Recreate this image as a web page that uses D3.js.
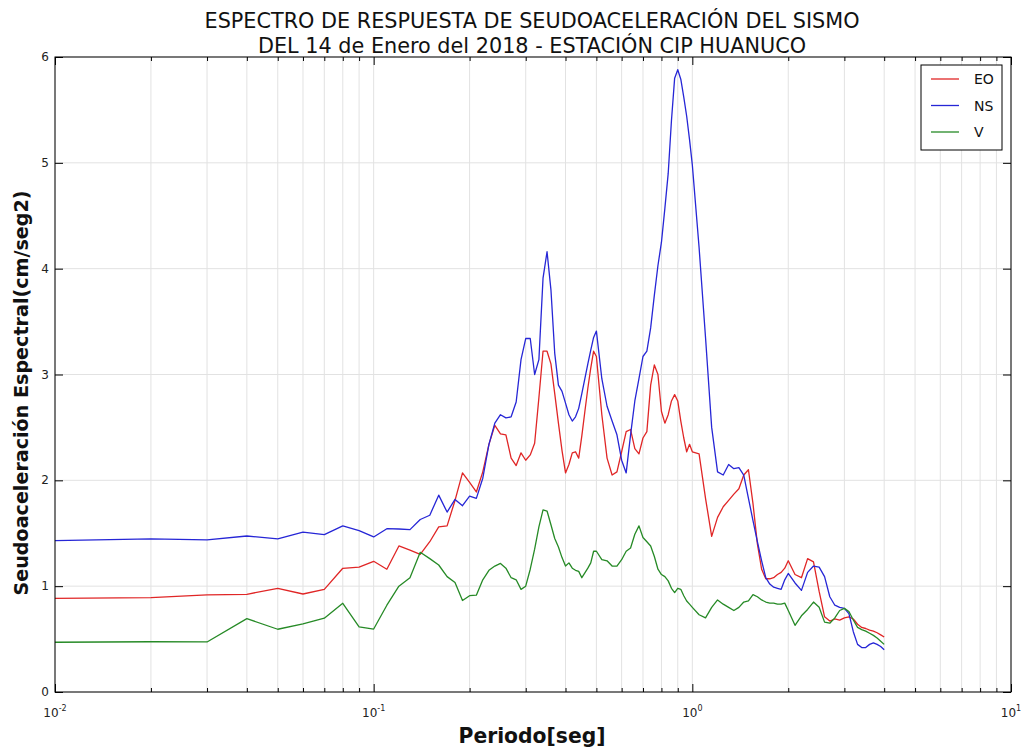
<!DOCTYPE html>
<html><head><meta charset="utf-8">
<script src="https://cdn.jsdelivr.net/npm/d3@7"></script>
<style>body{margin:0;background:#fff;} svg{display:block;font-family:"DejaVu Sans",sans-serif;}</style>
</head><body><svg id="c" width="1028" height="753"></svg>
<script>
// ---- data ----
const periods = [
  0.01,0.02,0.03,0.04,0.05,0.06,0.07,0.08,0.09,0.10,
  0.11,0.12,0.13,0.14,0.15,0.16,0.17,0.18,0.19,0.20,
  0.21,0.22,0.23,0.24,0.25,0.26,0.27,0.28,0.29,0.30,
  0.31,0.32,0.33,0.34,0.35,0.36,0.37,0.38,0.39,0.40,
  0.41,0.42,0.43,0.44,0.45,0.46,0.47,0.48,0.49,0.50,
  0.52,0.54,0.56,0.58,0.60,0.62,0.64,0.66,0.68,0.70,0.72,0.74,0.76,0.78,0.80,0.82,0.84,0.86,0.88,0.90,0.92,0.94,0.96,0.98,1.00,
  1.05,1.10,1.15,1.20,1.25,1.30,1.35,1.40,1.45,1.50,1.55,1.60,1.65,1.70,1.75,1.80,1.85,1.90,1.95,2.00,
  2.1,2.2,2.3,2.4,2.5,2.6,2.7,2.8,2.9,3.0,3.1,3.2,3.3,3.4,3.5,3.6,3.7,3.8,3.9,4.0
];
const eo = [
  0.885,0.891,0.917,0.923,0.98,0.926,0.97,1.169,1.18,1.235,
  1.16,1.38,1.34,1.30,1.42,1.56,1.57,1.81,2.07,1.98,
  1.89,2.08,2.34,2.52,2.44,2.43,2.21,2.14,2.26,2.19,
  2.24,2.35,2.78,3.22,3.22,3.10,2.82,2.54,2.28,2.07,
  2.15,2.26,2.27,2.21,2.42,2.65,2.87,3.06,3.22,3.17,
  2.62,2.21,2.05,2.08,2.27,2.46,2.48,2.30,2.25,2.40,2.46,2.90,3.09,3.0,2.65,2.54,2.62,2.75,2.81,2.75,2.56,2.40,2.27,2.34,2.27,
  2.25,1.83,1.47,1.65,1.75,1.81,1.87,1.92,2.05,2.10,1.78,1.40,1.16,1.07,1.07,1.08,1.11,1.13,1.17,1.24,
  1.11,1.08,1.26,1.23,0.95,0.71,0.67,0.69,0.68,0.70,0.71,0.69,0.64,0.61,0.60,0.585,0.575,0.56,0.54,0.52
];
const ns = [
  1.43,1.446,1.437,1.474,1.446,1.51,1.487,1.569,1.525,1.465,
  1.543,1.54,1.534,1.63,1.67,1.86,1.70,1.82,1.76,1.85,
  1.83,2.02,2.34,2.54,2.62,2.59,2.60,2.74,3.14,3.34,
  3.34,3.0,3.14,3.91,4.16,3.8,3.2,2.90,2.84,2.73,
  2.62,2.56,2.60,2.68,2.82,2.96,3.10,3.23,3.35,3.41,
  2.96,2.70,2.56,2.43,2.19,2.07,2.43,2.75,2.96,3.17,3.22,3.44,3.75,4.03,4.25,4.57,4.9,5.4,5.8,5.88,5.79,5.62,5.44,5.22,4.98,
  4.2,3.35,2.5,2.08,2.05,2.15,2.11,2.12,2.05,1.83,1.62,1.42,1.24,1.08,1.02,0.99,0.98,0.97,1.06,1.12,
  1.03,0.96,1.13,1.19,1.18,1.09,0.90,0.82,0.80,0.79,0.74,0.57,0.45,0.42,0.42,0.45,0.465,0.45,0.43,0.40
];
const vert = [
  0.47,0.475,0.473,0.693,0.593,0.643,0.697,0.838,0.615,0.595,
  0.82,1.0,1.08,1.32,1.26,1.20,1.09,1.035,0.865,0.91,
  0.915,1.06,1.15,1.19,1.215,1.17,1.08,1.06,0.97,1.0,
  1.16,1.35,1.56,1.72,1.71,1.58,1.45,1.37,1.27,1.19,
  1.22,1.17,1.15,1.14,1.08,1.125,1.17,1.22,1.33,1.33,
  1.25,1.24,1.19,1.19,1.25,1.33,1.36,1.49,1.57,1.46,1.42,1.38,1.28,1.16,1.11,1.09,1.05,0.98,0.94,0.98,0.97,0.91,0.86,0.83,0.80,
  0.73,0.70,0.80,0.87,0.83,0.80,0.77,0.80,0.85,0.86,0.92,0.90,0.87,0.85,0.84,0.84,0.83,0.83,0.84,0.77,
  0.63,0.72,0.78,0.85,0.80,0.66,0.65,0.70,0.77,0.79,0.76,0.68,0.61,0.59,0.575,0.555,0.535,0.51,0.48,0.45
];
const seriesNames = ["EO","NS","V"];
const seriesColors = ["#e02626","#2626d6","#268a26"];
const yTicks = [0,1,2,3,4,5,6];
const xTickExps = [-2,-1,0,1];
const titleLines = ["ESPECTRO DE RESPUESTA DE SEUDOACELERACIÓN DEL SISMO","DEL 14 de Enero del 2018 - ESTACIÓN CIP HUANUCO"];
const xLabel = "Periodo[seg]";
const yLabel = "Seudoaceleración Espectral(cm/seg2)";

// ---- layout ----
const svg = d3.select("#c");
const L = 55, R = 1011, T = 57, B = 692;
const x = d3.scaleLog().domain([0.01,10]).range([L,R]);
const y = d3.scaleLinear().domain([0,6]).range([B,T]);

svg.append("rect").attr("width",1028).attr("height",753).attr("fill","#fff");

// grid
const minorVals = [];
[0.01,0.1,1].forEach(d => { for (let k=1;k<=9;k++) minorVals.push(d*k); });
minorVals.push(10);
const grid = svg.append("g");
grid.selectAll("line.v").data(minorVals).join("line")
  .attr("x1",d=>x(d)).attr("x2",d=>x(d)).attr("y1",T).attr("y2",B)
  .attr("stroke","#e2e2e2").attr("stroke-width",1);
grid.selectAll("line.h").data(yTicks).join("line")
  .attr("x1",L).attr("x2",R).attr("y1",d=>y(d)).attr("y2",d=>y(d))
  .attr("stroke","#e2e2e2").attr("stroke-width",1);

// lines
const seriesData = [eo, ns, vert];
const line = d3.line().x((d,i)=>x(periods[i])).y(d=>y(d));
seriesData.forEach((s,k) => {
  svg.append("path").datum(s).attr("d",line).attr("fill","none")
    .attr("stroke",seriesColors[k]).attr("stroke-width",1.3).attr("stroke-linejoin","round");
});

// axes with inward ticks
const majorX = xTickExps.map(e=>Math.pow(10,e));
const minorX = minorVals.filter(v => !majorX.some(m => Math.abs(m-v)<1e-9));
function xAxis(gen, ty){
  const g = svg.append("g").attr("transform",`translate(0,${ty})`);
  g.call(gen(x).tickValues(majorX).tickSizeInner(-8).tickSizeOuter(0).tickFormat(""));
  const g2 = svg.append("g").attr("transform",`translate(0,${ty})`);
  g2.call(gen(x).tickValues(minorX).tickSizeInner(-4).tickSizeOuter(0).tickFormat(""));
  [g,g2].forEach(gg=>{gg.select(".domain").remove(); gg.selectAll("line").attr("stroke","#000");});
}
xAxis(d3.axisBottom, B);
xAxis(d3.axisTop, T);
function yAxis(gen, tx){
  const g = svg.append("g").attr("transform",`translate(${tx},0)`);
  g.call(gen(y).tickValues(yTicks).tickSizeInner(-8).tickSizeOuter(0).tickFormat(""));
  g.select(".domain").remove(); g.selectAll("line").attr("stroke","#000");
}
yAxis(d3.axisLeft, L);
yAxis(d3.axisRight, R);

// frame
svg.append("rect").attr("x",L).attr("y",T).attr("width",R-L).attr("height",B-T)
  .attr("fill","none").attr("stroke","#000").attr("stroke-width",1);

// tick labels
svg.append("g").selectAll("text").data(yTicks).join("text")
  .attr("x",L-6).attr("y",d=>y(d)+4).attr("text-anchor","end")
  .attr("font-size",12).attr("fill","#222").text(d=>d);
const xl = svg.append("g").selectAll("text").data(xTickExps).join("text")
  .attr("x",d=>x(Math.pow(10,d))).attr("y",717).attr("text-anchor","middle")
  .attr("font-size",12).attr("fill","#222");
xl.append("tspan").text("10");
xl.append("tspan").attr("dy",-6).attr("font-size",8).text(d=>d<0?"-"+Math.abs(d):String(d));

// titles
titleLines.forEach((t,i)=>{
  svg.append("text").attr("x",532).attr("y",[28,53][i]).attr("text-anchor","middle")
    .attr("font-size",22).attr("fill","#111")
    .attr("textLength",[655,548][i]).attr("lengthAdjust","spacingAndGlyphs").text(t);
});
svg.append("text").attr("x",532).attr("y",743).attr("text-anchor","middle")
  .attr("font-size",22).attr("font-weight","bold").attr("fill","#111")
  .attr("textLength",147).attr("lengthAdjust","spacingAndGlyphs").text(xLabel);
svg.append("text").attr("transform","translate(28,393) rotate(-90)").attr("text-anchor","middle")
  .attr("font-size",19).attr("font-weight","bold").attr("fill","#111")
  .attr("textLength",405).attr("lengthAdjust","spacingAndGlyphs").text(yLabel);

// legend
const lg = svg.append("g");
lg.append("rect").attr("x",921).attr("y",65).attr("width",81).attr("height",85)
  .attr("fill","#fff").attr("stroke","#000").attr("stroke-width",1);
seriesNames.forEach((n,i)=>{
  const yy = 79 + i*26.5;
  lg.append("line").attr("x1",931).attr("x2",959).attr("y1",yy).attr("y2",yy)
    .attr("stroke",seriesColors[i]).attr("stroke-width",1.3);
  lg.append("text").attr("x",974).attr("y",yy+5).attr("font-size",14).attr("fill","#111").text(n);
});
</script></body></html>
